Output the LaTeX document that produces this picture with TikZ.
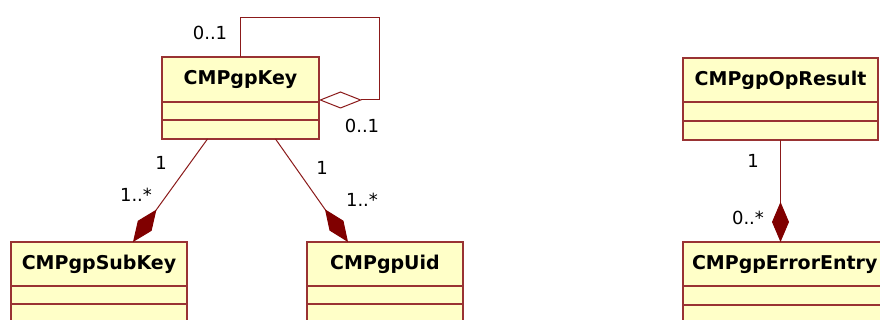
\documentclass[tikz,border=0pt]{standalone}
\usepackage{fontspec}
\setmainfont{DejaVu Sans}
\usetikzlibrary{arrows.meta,calc,fit}
\definecolor{umlborder}{HTML}{993333}
\definecolor{umlfill}{HTML}{FFFFC8}
\definecolor{umlline}{HTML}{8B1A1A}
\definecolor{umlsolid}{HTML}{800000}
\begin{document}
\begin{tikzpicture}[x=1pt,y=-1pt,
  classhead/.style={draw=umlborder, fill=umlfill, line width=1.5pt,
    font=\bfseries\fontsize{19}{19}\selectfont, inner xsep=9pt, inner ysep=0pt,
    minimum height=44pt, anchor=north west, outer sep=0pt},
  classcomp/.style={draw=umlborder, fill=umlfill, line width=1.5pt,
    inner sep=0pt, outer sep=0pt},
  assoc/.style={draw=umlline, line width=1pt},
  composite/.style={assoc, -{Diamond[length=40pt,width=17pt,color=umlsolid,fill=umlsolid]}},
  aggregate/.style={assoc, {Diamond[open,length=43pt,width=17pt,fill=white]}-},
  mult/.style={font=\fontsize{18}{18}\selectfont, inner sep=0pt, text=black}]
\clip (0,0) rectangle (880,320);
\fill[white] (0,0) rectangle (880,320);

% CMPgpKey
\node[classhead, minimum width=157pt, minimum height=45pt] (key) at (162,57) {CMPgpKey};
\node[classcomp, fit={(key.south west) ($(key.south east)+(0,18)$)}] (keyattr) {};
\node[classcomp, fit={(keyattr.south west) ($(keyattr.south east)+(0,19)$)}] (keyops) {};

% CMPgpSubKey
\node[classhead, minimum width=176pt] (sub) at (11,242) {CMPgpSubKey};
\node[classcomp, fit={(sub.south west) ($(sub.south east)+(0,18)$)}] (subattr) {};
\node[classcomp, fit={(subattr.south west) ($(subattr.south east)+(0,19)$)}] (subops) {};

% CMPgpUid
\node[classhead, minimum width=156pt] (uid) at (307,242) {CMPgpUid};
\node[classcomp, fit={(uid.south west) ($(uid.south east)+(0,18)$)}] (uidattr) {};
\node[classcomp, fit={(uidattr.south west) ($(uidattr.south east)+(0,19)$)}] (uidops) {};

% CMPgpOpResult
\node[classhead, minimum width=195pt] (res) at (683,58) {CMPgpOpResult};
\node[classcomp, fit={(res.south west) ($(res.south east)+(0,19)$)}] (resattr) {};
\node[classcomp, fit={(resattr.south west) ($(resattr.south east)+(0,19)$)}] (resops) {};

% CMPgpErrorEntry
\node[classhead] (err) at (683,242) {CMPgpErrorEntry};
\node[classcomp, fit={(err.south west) ($(err.south east)+(0,19)$)}] (errattr) {};
\node[classcomp, fit={(errattr.south west) ($(errattr.south east)+(0,19)$)}] (errops) {};

% self association of CMPgpKey
\coordinate (loop) at (379,18);
\coordinate (aggend) at ($(key.south east)+(0,-2)$);
\draw[aggregate] (aggend) -- (aggend -| loop) -- (loop) -| (key.north);

% compositions
\draw[composite] ($(keyops.south)+(-33,0)$) -- ($(sub.north)+(34,0)$);
\draw[composite] ($(keyops.south)+(35,0)$) -- ($(uid.north)+(-37,0)$);
\draw[composite] (resops.south) -- (resops.south |- err.north);

% multiplicities
\node[mult] (m1) at (210,33) {0..1};
\node[mult] (m2) at (362,126) {0..1};
\node[mult] (m3) at (161,163) {1};
\node[mult] (m4) at (136,195) {1..*};
\node[mult] (m5) at (322,168) {1};
\node[mult] (m6) at (362,200) {1..*};
\node[mult] (m7) at (753,161) {1};
\node[mult] (m8) at (748,218) {0..*};
\end{tikzpicture}
\end{document}
